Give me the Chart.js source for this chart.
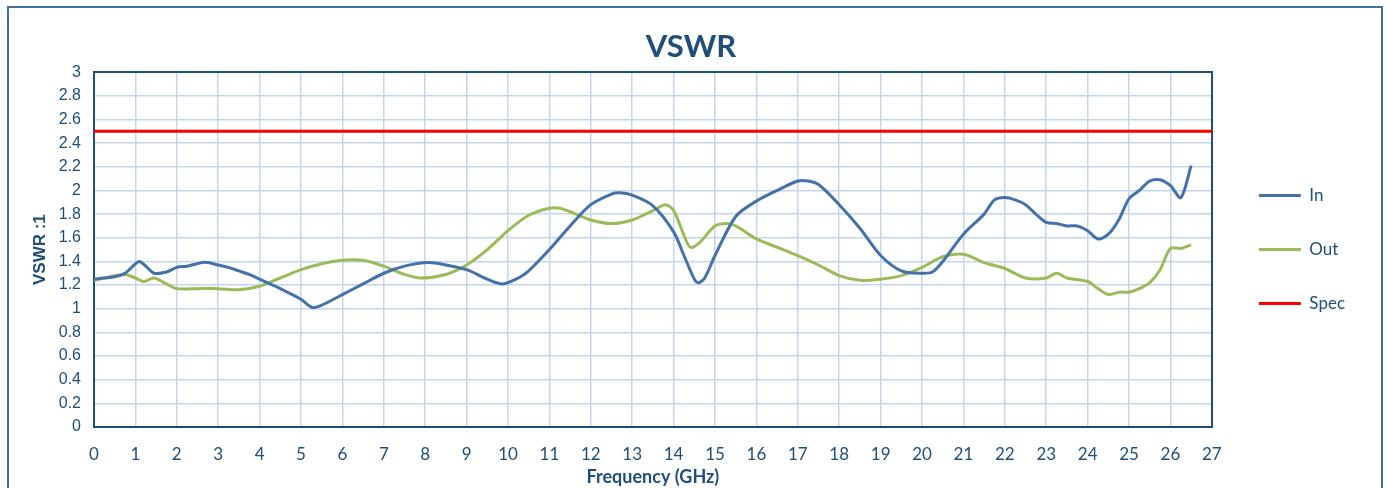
<!DOCTYPE html>
<html>
<head>
<meta charset="utf-8">
<script src="https://cdn.jsdelivr.net/npm/chart.js@4"></script>
<style>
  html, body { margin: 0; padding: 0; background: #fff; overflow: hidden; }
  #wrap { position: relative; width: 1389px; height: 488px; overflow: hidden; }
  #frame { position: absolute; left: 7px; top: 6px; width: 1376px; height: 520px;
           border: 2px solid #44709f; box-sizing: border-box; pointer-events: none; }
  canvas { position: absolute; left: 0; top: 0; }
</style>
</head>
<body>
<div id="wrap">
  <canvas id="chart" width="1389" height="488"></canvas>
  <div id="frame"></div>
</div>
<script>
// VSWR vs frequency
const inFreq = [0, 0.25, 0.5, 0.75, 1.0, 1.1, 1.25, 1.45, 1.75, 2.0, 2.25, 2.6, 2.75, 3.0, 3.25, 3.5, 3.75,
  4.0, 4.5, 5.0, 5.27, 5.5, 6.0, 6.5, 7.0, 7.5, 8.08, 8.5, 9.0, 9.5, 9.87, 10.25, 10.5, 11.0, 11.5,
  12.0, 12.5, 12.7, 13.0, 13.5, 14.0, 14.25, 14.5, 14.6, 14.75, 15.0, 15.5, 16.0, 16.5, 17.0, 17.25,
  17.5, 18.0, 18.5, 19.0, 19.5, 20.0, 20.25, 20.5, 21.0, 21.5, 21.75, 22.0, 22.25, 22.5, 22.75,
  23.0, 23.25, 23.5, 23.75, 24.0, 24.25, 24.5, 24.75, 25.0, 25.25, 25.5, 25.75, 26.0, 26.25, 26.5];
const inVswr = [1.25, 1.26, 1.27, 1.30, 1.38, 1.40, 1.36, 1.30, 1.31, 1.35, 1.36, 1.39, 1.39, 1.37, 1.35, 1.32, 1.29,
  1.25, 1.17, 1.08, 1.01, 1.03, 1.12, 1.21, 1.30, 1.36, 1.39, 1.37, 1.33, 1.25, 1.21, 1.26, 1.32, 1.50, 1.70,
  1.88, 1.97, 1.98, 1.96, 1.87, 1.65, 1.45, 1.25, 1.22, 1.26, 1.45, 1.78, 1.91, 2.00, 2.08, 2.08,
  2.05, 1.88, 1.68, 1.45, 1.32, 1.30, 1.31, 1.40, 1.63, 1.80, 1.92, 1.94, 1.92, 1.88, 1.80,
  1.73, 1.72, 1.70, 1.70, 1.66, 1.59, 1.63, 1.75, 1.93, 2.00, 2.08, 2.09, 2.04, 1.94, 2.21];

const outFreq = [0, 0.25, 0.5, 0.75, 1.0, 1.2, 1.45, 1.75, 2.0, 2.5, 3.0, 3.5, 4.0, 4.5, 5.0, 5.5, 6.0,
  6.5, 7.0, 7.5, 7.88, 8.5, 9.0, 9.5, 10.0, 10.5, 11.0, 11.25, 11.5, 12.0, 12.5, 13.0, 13.5, 13.8,
  14.0, 14.25, 14.4, 14.6, 15.0, 15.3, 15.5, 16.0, 16.5, 17.0, 17.5, 18.0, 18.5, 19.0, 19.5, 20.0,
  20.5, 21.0, 21.5, 22.0, 22.5, 23.0, 23.25, 23.5, 24.0, 24.25, 24.5, 24.75, 25.0, 25.25, 25.5,
  25.75, 26.0, 26.25, 26.5];
const outVswr = [1.24, 1.26, 1.28, 1.29, 1.26, 1.23, 1.26, 1.21, 1.17, 1.17, 1.17, 1.16, 1.19, 1.26, 1.33, 1.38, 1.41,
  1.41, 1.36, 1.29, 1.26, 1.29, 1.37, 1.50, 1.66, 1.79, 1.85, 1.85, 1.82, 1.75, 1.72, 1.75, 1.83, 1.88,
  1.83, 1.62, 1.52, 1.55, 1.70, 1.72, 1.70, 1.59, 1.52, 1.45, 1.37, 1.28, 1.24, 1.25, 1.28, 1.35,
  1.44, 1.46, 1.39, 1.34, 1.26, 1.26, 1.30, 1.26, 1.23, 1.17, 1.12, 1.14, 1.14, 1.17, 1.22,
  1.33, 1.51, 1.51, 1.54];

const specFreq = [0, 27];
const specVswr = [2.5, 2.5];

const xTicks = [0,1,2,3,4,5,6,7,8,9,10,11,12,13,14,15,16,17,18,19,20,21,22,23,24,25,26,27];
const yTicks = [0,0.2,0.4,0.6,0.8,1,1.2,1.4,1.6,1.8,2,2.2,2.4,2.6,2.8,3];

const navy = "#1f4e79";
const gridBlue = "#c5d6ec";

function pts(xs, ys) {
  return xs.map((x, i) => ({x: x, y: ys[i]}));
}

document.addEventListener("DOMContentLoaded", function() {
  const ctx = document.getElementById("chart");

  window.chart = new Chart(ctx, {
    type: "line",
    data: {
      datasets: [
        { label: "In", data: pts(inFreq, inVswr), borderColor: "#4471aa", borderWidth: 3 },
        { label: "Out", data: pts(outFreq, outVswr), borderColor: "#9bbb59", borderWidth: 3 },
        { label: "Spec", data: pts(specFreq, specVswr), borderColor: "#ff0000", borderWidth: 3 }
      ]
    },
    options: {
      responsive: false,
      animation: false,
      elements: { point: { radius: 0 }, line: { tension: 0.3 } },
      layout: { padding: { left: 27, right: 34, top: 28, bottom: 0 } },
      plugins: {
        title: {
          display: true,
          text: "VSWR",
          color: navy,
          font: { family: "Lato", size: 31, weight: "bold" },
          padding: { top: 0, bottom: 7 }
        },
        legend: {
          position: "right",
          align: "center",
          fullSize: false,
          labels: {
            usePointStyle: true,
            pointStyle: "line",
            pointStyleWidth: 42,
            padding: 37,
            color: navy,
            font: { family: "Lato", size: 17 }
          }
        },
        tooltip: { enabled: false }
      },
      scales: {
        x: {
          type: "linear",
          min: 0, max: 27,
          afterBuildTicks: s => { s.ticks = xTicks.map(v => ({value: v})); },
          grid: { color: gridBlue, lineWidth: 1.5, drawTicks: false },
          border: { color: navy, width: 2 },
          ticks: { color: navy, padding: 17, font: { family: "Lato", size: 17 } },
          title: {
            display: true,
            text: "Frequency (GHz)",
            color: navy,
            padding: { top: -15, bottom: 0 },
            font: { family: "Lato", size: 18, weight: "bold" }
          }
        },
        x2: {
          type: "linear", position: "top",
          min: 0, max: 27,
          grid: { display: false, drawTicks: false },
          border: { color: navy, width: 2 },
          ticks: { display: false },
          afterFit: s => { s.height = 0; }
        },
        y: {
          min: 0, max: 3,
          afterBuildTicks: s => { s.ticks = yTicks.map(v => ({value: v})); },
          afterFit: s => { s.width = 67; },
          grid: { color: gridBlue, lineWidth: 1.5, drawTicks: false },
          border: { color: navy, width: 2 },
          ticks: {
            color: navy, padding: 13,
            font: { family: "Liberation Sans", size: 16 },
            callback: v => String(v)
          },
          title: {
            display: true,
            text: "VSWR :1",
            color: navy,
            padding: { top: 3, bottom: 0 },
            font: { family: "Liberation Sans", size: 17, weight: "bold" }
          }
        },
        y2: {
          position: "right",
          min: 0, max: 3,
          grid: { display: false, drawTicks: false },
          border: { color: navy, width: 2 },
          ticks: { display: false },
          afterFit: s => { s.width = 10; }
        }
      }
    }
  });
});
</script>
</body>
</html>
